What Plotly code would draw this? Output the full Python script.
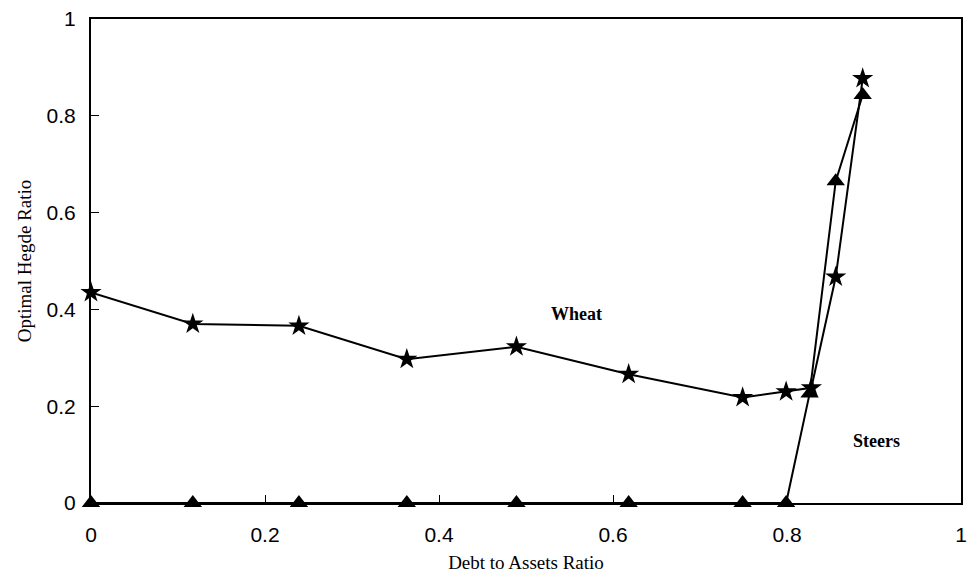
import plotly.graph_objects as go

# Debt-to-assets ratio at each evaluated point
wheat_x = [0, 0.117, 0.239, 0.363, 0.489, 0.618, 0.749, 0.799, 0.828, 0.856, 0.887]
wheat_y = [0.435, 0.370, 0.366, 0.297, 0.323, 0.266, 0.218, 0.230, 0.238, 0.467, 0.877]

steers_x = [0, 0.117, 0.239, 0.363, 0.489, 0.618, 0.749, 0.799, 0.826, 0.856, 0.887]
steers_y = [0, 0, 0, 0, 0, 0, 0, 0, 0.226, 0.665, 0.843]

tick_vals = [0, 0.2, 0.4, 0.6, 0.8, 1]
tick_text = ["0", "0.2", "0.4", "0.6", "0.8", "1"]

fig = go.Figure()
fig.add_trace(go.Scatter(
    x=steers_x, y=steers_y, mode="lines+markers", name="Steers",
    line=dict(color="black", width=2),
    marker=dict(symbol="triangle-up", size=16, color="black"),
    cliponaxis=False,
))
fig.add_trace(go.Scatter(
    x=wheat_x, y=wheat_y, mode="lines+markers", name="Wheat",
    line=dict(color="black", width=2),
    marker=dict(symbol="star", size=16, color="black"),
    cliponaxis=False,
))

label_font = dict(family="Liberation Serif", size=18, color="black")
fig.add_annotation(x=0.558, y=0.391, text="<b>Wheat</b>", showarrow=False, font=label_font)
fig.add_annotation(x=0.903, y=0.129, text="<b>Steers</b>", showarrow=False, font=label_font)

axis_common = dict(
    range=[0, 1], tickvals=tick_vals, ticktext=tick_text,
    ticks="inside", ticklen=8, tickwidth=1, tickcolor="black",
    showline=True, linecolor="black", linewidth=2, mirror=True,
    showgrid=False, zeroline=False,
    tickfont=dict(family="Liberation Sans", size=21, color="black"),
)
title_font = dict(family="Liberation Serif", size=19, color="black")

fig.update_layout(
    width=974, height=578,
    margin=dict(l=91, r=7, t=15, b=75),
    paper_bgcolor="white", plot_bgcolor="white",
    showlegend=False,
    xaxis=dict(**axis_common, ticklabelstandoff=12,
               title=dict(text="Debt to Assets Ratio", standoff=10, font=title_font)),
    yaxis=dict(**axis_common, ticklabelstandoff=9,
               title=dict(text="Optimal Hegde Ratio", standoff=10, font=title_font)),
)

fig.write_html("out.html")
